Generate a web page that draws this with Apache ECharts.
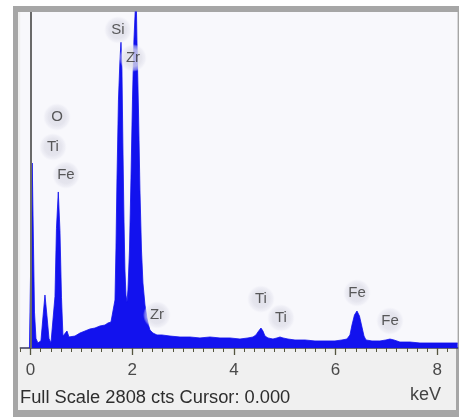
<!DOCTYPE html>
<html>
<head>
<meta charset="utf-8">
<script src="https://cdn.jsdelivr.net/npm/echarts@6/dist/echarts.min.js"></script>
<style>
  html, body { margin: 0; padding: 0; background: #ffffff; }
  #outer { position: absolute; left: 13px; top: 6px; width: 446px; height: 411px; background: #a6a6a6; }
  #panel { position: absolute; left: 18px; top: 12px; width: 438px; height: 398px; background: #f0f0f0; }
  #chart { position: absolute; left: 0; top: 0; width: 459px; height: 417px; }
</style>
</head>
<body>
<div id="outer"></div>
<div id="panel"></div>
<div id="chart"></div>
<script>
// Spectrum: energy (keV) and counts
const energyKeV = [
  -0.02, 0.010, 0.035, 0.059, 0.079, 0.108, 0.147, 0.206, 0.246, 0.285, 0.324, 0.364, 0.403,
  0.442, 0.482, 0.511, 0.547, 0.580, 0.610, 0.639, 0.678, 0.718, 0.757, 0.796, 0.875, 0.973,
  1.072, 1.170, 1.268, 1.367, 1.465, 1.524, 1.583, 1.622, 1.662, 1.681, 1.701, 1.730, 1.760,
  1.780, 1.799, 1.819, 1.839, 1.858, 1.878, 1.898, 1.917, 1.947, 1.976, 2.006, 2.035, 2.065,
  2.075, 2.094, 2.124, 2.153, 2.183, 2.212, 2.252, 2.291, 2.321, 2.350, 2.409, 2.488, 2.586,
  2.743, 2.940, 3.137, 3.333, 3.530, 3.727, 3.923, 4.120, 4.277, 4.376, 4.435, 4.474, 4.533,
  4.572, 4.612, 4.671, 4.769, 4.848, 4.907, 4.966, 5.064, 5.202, 5.398, 5.595, 5.792, 5.988,
  6.126, 6.224, 6.283, 6.323, 6.372, 6.421, 6.470, 6.519, 6.559, 6.598, 6.716, 6.873, 6.991,
  7.070, 7.148, 7.266, 7.463, 7.659, 7.856, 8.053, 8.400
];
const counts = [
  0, 860, 1546, 860, 300, 80, 42, 60, 260, 443, 270, 80, 42,
  50, 430, 1000, 1304, 980, 420, 100, 100, 142, 92, 84, 100, 125,
  142, 159, 167, 184, 192, 209, 217, 226, 401, 819, 1404, 2073, 2407,
  2557, 2323, 1655, 1070, 652, 443, 384, 485, 819, 1404, 2073, 2574, 2866,
  3050, 2574, 1989, 1320, 819, 543, 359, 251, 192, 150, 125, 109, 109,
  100, 92, 92, 84, 92, 84, 84, 75, 84, 92, 109, 134, 167,
  142, 100, 84, 75, 84, 92, 84, 75, 67, 67, 59, 59, 59,
  67, 75, 109, 192, 276, 309, 267, 175, 100, 67, 59, 59, 67,
  75, 67, 50, 50, 42, 42, 42, 42
];

// Element labels: name, energy (keV), count level of the label
const peakNames  = ['Si', 'Zr', 'O', 'Ti', 'Fe', 'Zr', 'Ti', 'Ti', 'Fe', 'Fe'];
const peakKeV    = [1.721, 2.016, 0.521, 0.442, 0.698, 2.488, 4.533, 4.926, 6.421, 7.070];
const peakLevel  = [2658, 2424, 1930, 1680, 1446, 276, 409, 251, 460, 226];

// Axis
const xMin = -0.2, xMax = 8.4;
const tickLabels = [0, 2, 4, 6, 8];
const minorTickValues = [
  -0.2, 0.2, 0.4, 0.6, 0.8, 1.0, 1.2, 1.4, 1.6, 1.8,
  2.2, 2.4, 2.6, 2.8, 3.0, 3.2, 3.4, 3.6, 3.8,
  4.2, 4.4, 4.6, 4.8, 5.0, 5.2, 5.4, 5.6, 5.8,
  6.2, 6.4, 6.6, 6.8, 7.0, 7.2, 7.4, 7.6, 7.8,
  8.2
];
const fullScale = 2808;
const cursorKeV = 0;
const footerText = 'Full Scale ' + fullScale + ' cts Cursor: ' + cursorKeV.toFixed(3);
const unitText = 'keV';

const FONT = '"Liberation Sans", Arial, sans-serif';
const chart = echarts.init(document.getElementById('chart'), null, { renderer: 'canvas' });

const spectrum = energyKeV.map((e, i) => [e, counts[i]]);
const labelsData = peakNames.map((n, i) => ({ value: [peakKeV[i], peakLevel[i]], name: n }));

const halo = new echarts.graphic.RadialGradient(0.5, 0.5, 0.5, [
  { offset: 0, color: 'rgba(220,220,230,1)' },
  { offset: 0.6, color: 'rgba(223,223,233,0.97)' },
  { offset: 0.85, color: 'rgba(230,230,240,0.6)' },
  { offset: 1, color: 'rgba(240,240,248,0)' }
]);

const gridRect = { left: 20.3, right: 1.4, top: 12, bottom: 69 };

chart.setOption({
  animation: false,
  backgroundColor: 'transparent',
  grid: [
    Object.assign({ show: true, backgroundColor: '#f8f8fc', borderWidth: 0 }, gridRect),
    Object.assign({ show: false }, gridRect),
    Object.assign({ show: false }, gridRect)
  ],
  xAxis: [{
    // main data axis with the baseline
    gridIndex: 0, type: 'value', min: xMin, max: xMax,
    axisLine: { show: true, onZero: false, lineStyle: { color: '#3a3a5a', width: 1.5 } },
    axisTick: { show: false },
    axisLabel: { show: false },
    splitLine: { show: false }
  }, {
    // major ticks and labels
    gridIndex: 1, type: 'value', min: xMin, max: xMax, z: 10,
    axisLine: { show: false, onZero: false },
    axisTick: { show: true, customValues: tickLabels, length: 7, lineStyle: { color: '#55553f', width: 1.3 } },
    axisLabel: {
      show: true, customValues: tickLabels, margin: 14,
      fontSize: 17, color: '#4a4a4a', fontFamily: FONT,
      formatter: v => String(Math.round(v))
    },
    splitLine: { show: false }
  }, {
    // minor ticks every 0.2 keV
    gridIndex: 2, type: 'value', min: xMin, max: xMax, z: 10,
    axisLine: { show: false, onZero: false },
    axisTick: { show: true, customValues: minorTickValues, length: 4, lineStyle: { color: '#55553f', width: 1 } },
    axisLabel: {
      show: true, customValues: minorTickValues, hideOverlap: false,
      formatter: () => ' ', fontSize: 6, color: 'rgba(0,0,0,0)'
    },
    splitLine: { show: false }
  }],
  yAxis: [
    { gridIndex: 0, type: 'value', min: 0, max: fullScale, show: false, splitLine: { show: false } },
    { gridIndex: 1, type: 'value', min: 0, max: fullScale, show: false, splitLine: { show: false } },
    { gridIndex: 2, type: 'value', min: 0, max: fullScale, show: false, splitLine: { show: false } }
  ],
  series: [{
    type: 'line',
    xAxisIndex: 0, yAxisIndex: 0,
    data: spectrum,
    symbol: 'none',
    clip: true,
    z: 2,
    lineStyle: { color: '#1212ee', width: 0.8 },
    areaStyle: { color: '#1212ee', opacity: 1 },
    markLine: {
      silent: true,
      symbol: ['none', 'none'],
      label: { show: false },
      lineStyle: { color: '#6a6a6a', width: 2, type: 'solid' },
      data: [{ xAxis: cursorKeV }]
    }
  }, {
    type: 'scatter',
    xAxisIndex: 0, yAxisIndex: 0,
    data: labelsData,
    symbol: 'circle',
    symbolSize: 28,
    z: 5,
    silent: true,
    itemStyle: { color: halo },
    label: {
      show: true, position: 'inside',
      formatter: p => p.name,
      fontSize: 15, color: '#333333', fontFamily: FONT
    }
  }],
  graphic: [{
    type: 'text', left: 20, top: 389, z: 10,
    style: { text: footerText, font: '18.3px ' + FONT, fill: '#2e2e2e' }
  }, {
    type: 'text', left: 410, top: 386, z: 10,
    style: { text: unitText, font: '18px ' + FONT, fill: '#444444' }
  }]
});
</script>
</body>
</html>
